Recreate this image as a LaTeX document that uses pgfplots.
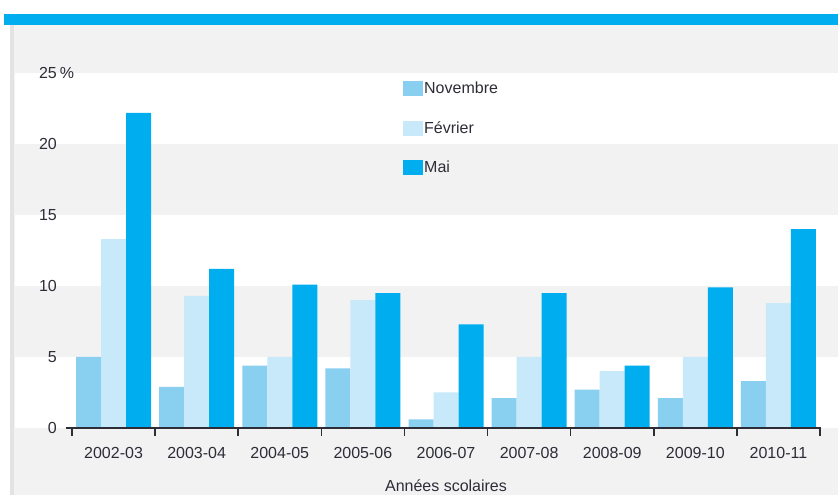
\documentclass[border=0pt]{standalone}
\usepackage{pgfplots}
\pgfplotsset{compat=1.18}
\usepackage{fontspec}
\setmainfont{Liberation Sans}
\definecolor{nov}{RGB}{137,207,240}
\definecolor{fev}{RGB}{199,233,250}
\definecolor{mai}{RGB}{0,174,239}
\definecolor{bg}{RGB}{242,242,242}
\definecolor{txt}{RGB}{45,45,55}
\pgfplotsset{sq legend/.style={legend image code/.code={\fill[##1,draw=none] (0pt,-7pt) rectangle (20pt,8pt);}}}
\begin{document}
\fontsize{16}{19}\selectfont
\begin{tikzpicture}[x=1pt,y=1pt]
\path[use as bounding box] (0,0) rectangle (838,495);
\fill[white] (0,0) rectangle (838,495);
\fill[bg] (10,0) rectangle (838,470);
\fill[black!11] (10,0) rectangle (14,470);
\fill[mai] (4,470) rectangle (838,481);
\foreach \a/\b in {0/5,10/15,20/25} \fill[white] (15,{67+\a*14.2}) rectangle (838,{67+\b*14.2});
\begin{axis}[
  at={(72pt,67pt)}, anchor=south west,
  scale only axis, width=748pt, height=355pt,
  xmin=-0.5, xmax=8.5, ymin=0, ymax=25,
  ybar=0pt, bar width=25pt,
  axis line style={draw=none},
  major tick length=0pt,
  clip=false,
  xtick={0,...,8},
  xticklabels={2002-03,2003-04,2004-05,2005-06,2006-07,2007-08,2008-09,2009-10,2010-11},
  ytick={0,5,10,15,20,25},
  yticklabels={0,5,10,15,20,25\rlap{\kern3pt\%}},
  /pgf/number format/assume math mode=true,
  xticklabel style={anchor=base, inner sep=0pt, yshift=-31pt, text=txt},
  yticklabel style={anchor=east, inner sep=0pt, xshift=-15pt, text=txt},
  xlabel={Années scolaires},
  xlabel style={at={(axis description cs:0.5,0)}, anchor=base, inner sep=0pt, yshift=-64pt, text=txt},
  legend style={at={(0.4425,0.978)}, anchor=north west, draw=none, fill=none, inner sep=0pt, row sep=24.5pt, nodes={inner xsep=1pt, inner ysep=0pt, text=txt}},
  legend cell align=left,
]
\addplot[fill=nov, draw=none, sq legend] coordinates {(0,5.0) (1,2.9) (2,4.4) (3,4.2) (4,0.6) (5,2.1) (6,2.7) (7,2.1) (8,3.3)};
\addplot[fill=fev, draw=none, sq legend] coordinates {(0,13.3) (1,9.3) (2,5.0) (3,9.0) (4,2.5) (5,5.0) (6,4.0) (7,5.0) (8,8.8)};
\addplot[fill=mai, draw=none, sq legend] coordinates {(0,22.2) (1,11.2) (2,10.1) (3,9.5) (4,7.3) (5,9.5) (6,4.4) (7,9.9) (8,14.0)};
\legend{Novembre,Février,Mai}
\draw[txt, line width=1.5pt] ([xshift=-6pt]axis cs:-0.5,0) -- ([xshift=1pt]axis cs:8.5,0);
\pgfplotsinvokeforeach{-0.5,0.5,...,8.5}{\draw[txt, line width=1.5pt] (axis cs:#1,0) -- ++(0pt,-8pt);}
\end{axis}
\end{tikzpicture}
\end{document}
